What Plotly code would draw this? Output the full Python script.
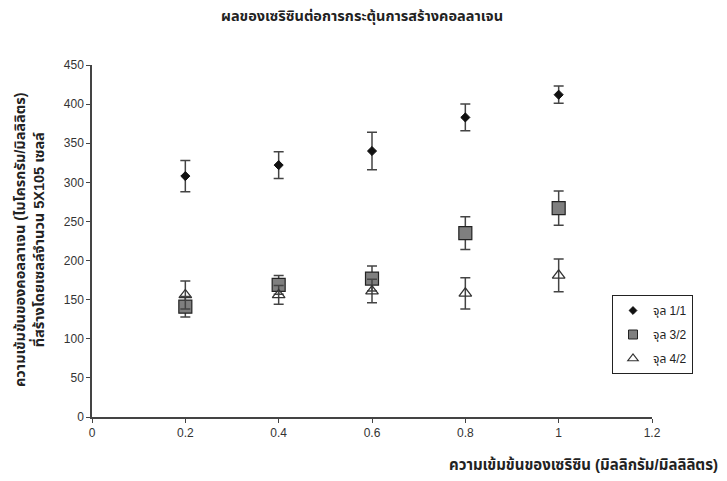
import plotly.graph_objects as go

x_vals = [0.2, 0.4, 0.6, 0.8, 1.0]
series_names = ["จุล 1/1", "จุล 3/2", "จุล 4/2"]
s1_vals = [308, 322, 340, 383, 412]
s1_err = [20, 17, 24, 17, 11]
s2_vals = [141, 169, 177, 235, 267]
s2_err = [13, 12, 16, 21, 22]
s3_vals = [156, 156, 161, 158, 181]
s3_err = [18, 12, 15, 20, 21]

x_ticks = [0, 0.2, 0.4, 0.6, 0.8, 1, 1.2]
y_ticks = [0, 50, 100, 150, 200, 250, 300, 350, 400, 450]

title_text = "ผลของเซริซินต่อการกระตุ้นการสร้างคอลลาเจน"
x_title = "ความเข้มข้นของเซริซิน (มิลลิกรัม/มิลลิลิตร)"
y_title = "ความเข้มข้นของคอลลาเจน (ไมโครกรัม/มิลลิลิตร)<br>ที่สร้างโดยเซลล์จำนวน 5X105 เซลล์"

FONT = "Liberation Sans, Arial, Noto Sans Thai, Noto Sans, DejaVu Sans, sans-serif"
err_col = "#444444"

# plot-area corners in page pixels (body has 8px margin)
OFF = 8
PL, PR, PT, PB = 92, 652, 65, 417
W, H = 727 - OFF, 481 - OFF
PW, PH = PR - PL, PB - PT

def px(xp):
    return (xp - PL) / PW

def py(yp):
    return (PB - yp) / PH

marker_styles = [
    dict(symbol="diamond", size=7, color="#111111", line=dict(color="#111111", width=1)),
    dict(symbol="square", size=13, color="#7f7f7f", line=dict(color="#222222", width=1.2)),
    dict(symbol="triangle-up-open", size=11, color="#333333", line=dict(width=1.3)),
]
legend_markers = [
    dict(symbol="diamond", size=6, color="#111111", line=dict(color="#111111", width=1)),
    dict(symbol="square", size=9, color="#7f7f7f", line=dict(color="#222222", width=1)),
    dict(symbol="triangle-up-open", size=9, color="#333333", line=dict(width=1.2)),
]

fig = go.Figure()
for name, vals, errs, mk in zip(series_names, [s1_vals, s2_vals, s3_vals],
                                [s1_err, s2_err, s3_err], marker_styles):
    fig.add_trace(go.Scatter(
        x=x_vals, y=vals, mode="markers", name=name, showlegend=False,
        marker=mk,
        error_y=dict(type="data", array=errs, visible=True, color=err_col, thickness=1.5, width=5),
    ))
for i, (name, mk) in enumerate(zip(series_names, legend_markers)):
    fig.add_trace(go.Scatter(x=[None], y=[None], mode="markers", name=name,
                             legendgroup="g%d" % i, marker=mk, showlegend=True))

fig.update_layout(
    width=W, height=H,
    margin=dict(l=PL - OFF, r=W - (PR - OFF), t=PT - OFF, b=H - (PB - OFF)),
    paper_bgcolor="white", plot_bgcolor="white",
    font=dict(family=FONT, size=12, color="#222222"),
    showlegend=True,
    legend=dict(x=px(612), y=py(295), xanchor="left", yanchor="top",
                bordercolor="#222222", borderwidth=1, bgcolor="white",
                font=dict(size=12, color="#222222"), itemsizing="trace",
                itemwidth=30, tracegroupgap=5),
    xaxis=dict(range=[0, 1.2], tickvals=x_ticks, ticktext=[str(t) for t in x_ticks],
               showgrid=False, zeroline=False, showline=True, linecolor="#444444",
               linewidth=1.5, ticks="outside", ticklen=4, tickcolor="#444444",
               tickfont=dict(size=12, color="#333333")),
    yaxis=dict(range=[0, 450], tickvals=y_ticks, showgrid=False, zeroline=False,
               showline=True, linecolor="#444444", linewidth=1.5, ticks="outside",
               ticklen=4, tickcolor="#444444", tickfont=dict(size=12, color="#333333")),
    annotations=[
        dict(text="<b>" + title_text + "</b>", xref="paper", yref="paper",
             x=px(362), y=py(17), xanchor="center", yanchor="middle",
             showarrow=False, font=dict(size=14.5, color="#222222", family=FONT)),
        dict(text="<b>" + x_title + "</b>", xref="paper", yref="paper",
             x=px(720), y=py(465), xanchor="right", yanchor="middle",
             showarrow=False, font=dict(size=15, color="#222222", family=FONT)),
        dict(text="<b>" + y_title + "</b>", xref="paper", yref="paper",
             x=px(29), y=py(240), xanchor="center", yanchor="middle",
             textangle=-90, showarrow=False, font=dict(size=14.5, color="#222222", family=FONT)),
    ],
)

fig.write_html("out.html")
